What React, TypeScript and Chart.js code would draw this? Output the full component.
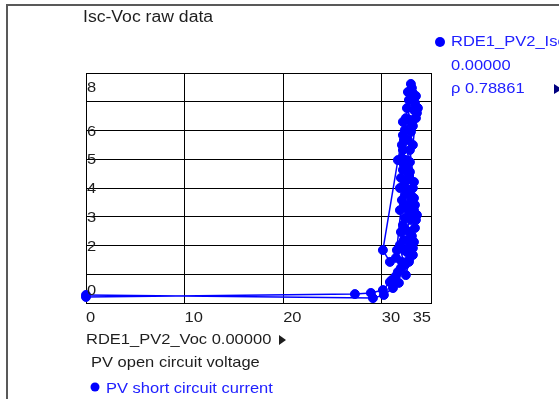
import React, { useEffect, useRef } from "react";
import { Chart, registerables } from "chart.js";

Chart.register(...registerables);

// Open circuit voltage (V) and short circuit current (A) samples, in recorded order
const voc = [
  0, 27.28, 28.9, 30.12, 30.83, 31.44, 31.95, 32.76, 32.25, 32.66, 32.45, 32.96, 32.66, 33.06,
  32.76, 32.56, 32.15, 32.45, 32.15, 32.66, 32.35, 33.06, 33.57, 33.37, 33.16, 32.96, 33.47,
  33.67, 32.86, 32.15, 31.64, 30.12, 30.83, 31.44, 32.05, 32.25, 32.86, 33.16, 33.37, 33.06,
  33.37, 32.96, 33.16, 32.76, 32.45, 31.85, 32.15, 31.85, 32.35, 31.95, 32.25, 32.05, 32.45,
  32.76, 33.27, 32.86, 33.27, 32.76, 33.47, 32.86, 32.25, 33.16, 32.05,
  31.54, 32.56, 33.06, 31.95, 32.35, 33.27, 32.25, 32.96, 31.85, 32.76, 32.05, 32.86, 32.25,
  32.96, 32.15, 33.16, 32.56, 33.06, 32.66, 33.47, 33.16, 32.56, 33.27, 33.57, 32.86, 33.27,
  32.35, 31.64, 31.03,
  31.74, 31.14, 30.22, 29.11, 0,
];
const isc = [
  0.21, 0.31, 0.35, 0.45, 0.73, 0.94, 1.22, 1.5, 1.84, 2.19, 2.54, 2.89, 3.23, 3.58, 3.93,
  4.28, 4.63, 4.97, 5.32, 5.67, 6.02, 6.3, 6.61, 6.96, 7.3, 7.62, 7.2, 6.78, 6.37, 5.84, 4.97,
  1.84, 1.43, 1.57, 3.58, 4.1, 4.56, 4.0, 3.41, 3.06, 2.61, 2.26, 1.91, 1.43, 0.97, 2.02, 2.71,
  3.23, 3.76, 4.35, 4.8, 5.5, 6.43, 7.06, 6.71, 5.32, 4.21, 3.41, 2.89, 2.47, 2.19, 1.67, 1.43,
  1.84, 1.77, 2.33, 2.47, 2.96, 3.23, 3.41, 3.76, 4.0, 4.42, 5.04, 4.9, 5.67, 5.95, 6.3, 6.16,
  6.78, 7.48, 7.34, 6.43, 5.5, 4.7, 3.65, 3.06, 2.02, 2.12, 1.32, 1.08, 0.8,
  0.7, 0.52, 0.28, 0.17, 0.28,
];

// Axis labels that are printed
const xTickLabels = [0, 10, 20, 30, 35];
const yTickLabels = [8, 6, 5, 4, 3, 2, 0];

const titleText = "Isc-Voc raw data";
const ySeriesName = "RDE1_PV2_Isc";
const yCursorValue = "0.00000";
const yCorrelation = "\u03c1 0.78861";
const xSeriesName = "RDE1_PV2_Voc 0.00000";
const xDescription = "PV open circuit voltage";
const yDescription = "PV short circuit current";

const BLUE = "#0000ff";
const TEXT_BLUE = "#2020ff";
const INK = "#1e1e1e";
const FONT = '"Liberation Sans", Arial, sans-serif';
const STRETCH = 1.1; // the panel font runs slightly wide

function text(ctx: CanvasRenderingContext2D, s: string, x: number, y: number, align: CanvasTextAlign = "left") {
  ctx.save();
  ctx.translate(x, y);
  ctx.scale(STRETCH, 1);
  ctx.textAlign = align;
  ctx.fillText(s, 0, 0);
  ctx.restore();
}

const decorations = {
  id: "decorations",
  afterDraw(chart: any) {
    const { ctx, chartArea: a, scales } = chart;
    ctx.save();

    // outer panel frame (top and left edges)
    ctx.fillStyle = "#595959";
    ctx.fillRect(6, 4, chart.width - 6, 2);
    ctx.fillRect(6, 4, 2, chart.height - 4);

    // title
    ctx.fillStyle = INK;
    ctx.textBaseline = "alphabetic";
    ctx.font = `16px ${FONT}`;
    text(ctx, titleText, 83, 22);

    // y tick labels, inside the plot area
    ctx.font = `15px ${FONT}`;
    for (const v of yTickLabels) {
      const py = scales.y.getPixelForValue(v);
      const base = Math.min(Math.max(py + 5, a.top + 19), a.bottom - 8);
      text(ctx, String(v), a.left + 1, base);
    }

    // x tick labels, left-aligned at their grid line, last one at the right edge
    xTickLabels.forEach((v, i) => {
      const px = scales.x.getPixelForValue(v);
      if (i === xTickLabels.length - 1) text(ctx, String(v), a.right, 322, "right");
      else text(ctx, String(v), px, 322);
    });

    // x series caption
    text(ctx, xSeriesName, 86, 344);
    ctx.beginPath();
    ctx.moveTo(279, 335);
    ctx.lineTo(286, 340);
    ctx.lineTo(279, 345);
    ctx.closePath();
    ctx.fill();
    text(ctx, xDescription, 91, 367);

    // y series caption (bottom)
    ctx.fillStyle = BLUE;
    ctx.beginPath();
    ctx.arc(95, 387, 4.5, 0, Math.PI * 2);
    ctx.fill();
    ctx.fillStyle = TEXT_BLUE;
    text(ctx, yDescription, 106, 393);

    // y series readout (top right)
    ctx.fillStyle = BLUE;
    ctx.beginPath();
    ctx.arc(440, 42, 5, 0, Math.PI * 2);
    ctx.fill();
    ctx.fillStyle = TEXT_BLUE;
    text(ctx, ySeriesName, 451, 46);
    text(ctx, yCursorValue, 451, 70);
    text(ctx, yCorrelation, 451, 93);
    ctx.fillStyle = "#000080";
    ctx.beginPath();
    ctx.moveTo(554, 84);
    ctx.lineTo(562, 89);
    ctx.lineTo(554, 94);
    ctx.closePath();
    ctx.fill();

    ctx.restore();
  },
};

export default function App() {
  const ref = useRef<HTMLCanvasElement | null>(null);

  useEffect(() => {
    if (!ref.current) return;
    const points = voc.map((x, i) => ({ x, y: isc[i] }));
    const chart = new Chart(ref.current, {
      type: "scatter",
      data: {
        datasets: [
          {
            data: points,
            showLine: true,
            borderColor: BLUE,
            backgroundColor: BLUE,
            borderWidth: 1.5,
            pointRadius: 4.5,
            pointBorderWidth: 1,
            pointBackgroundColor: BLUE,
            pointBorderColor: BLUE,
            clip: false as any,
          },
        ],
      },
      options: {
        animation: false,
        responsive: false,
        devicePixelRatio: 1,
        layout: { padding: { left: 86, top: 73, right: 128, bottom: 96 } },
        plugins: { legend: { display: false }, tooltip: { enabled: false } },
        scales: {
          x: {
            type: "linear",
            min: 0,
            max: 35,
            ticks: { display: false, stepSize: 10 },
            grid: { color: "#000", lineWidth: 1, drawTicks: false },
            border: { display: true, color: "#000", width: 1 },
            afterFit: (s: any) => {
              s.height = 0;
            },
          },
          y: {
            type: "linear",
            min: 0,
            max: 8,
            ticks: { display: false, stepSize: 1 },
            grid: { color: "#000", lineWidth: 1, drawTicks: false },
            border: { display: true, color: "#000", width: 1 },
            afterFit: (s: any) => {
              s.width = 0;
            },
          },
        },
      },
      plugins: [decorations],
    });
    return () => chart.destroy();
  }, []);

  return (
    <div style={{ position: "fixed", left: 0, top: 0, width: 559, height: 399, background: "#fff" }}>
      <canvas ref={ref} width={559} height={399} style={{ display: "block" }} />
    </div>
  );
}
